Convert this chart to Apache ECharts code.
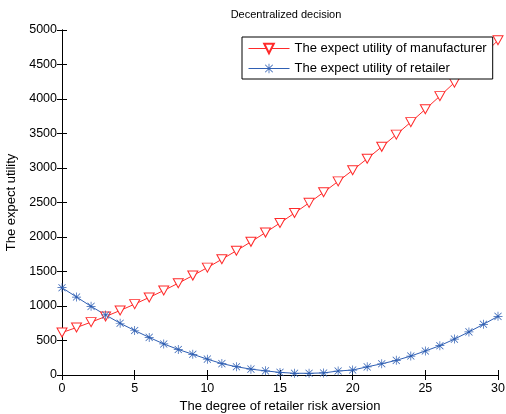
<!DOCTYPE html>
<html><head><meta charset="utf-8">
<script src="https://cdn.jsdelivr.net/npm/echarts@6/dist/echarts.min.js"></script>
<style>html,body{margin:0;padding:0;background:#fff}#c{width:506px;height:414px}</style>
</head><body><div id="c"></div>
<script>
const riskAversion = [0,1,2,3,4,5,6,7,8,9,10,11,12,13,14,15,16,17,18,19,20,21,22,23,24,25,26,27,28,29,30];
const manufacturerUtility = [615,688,766,848,935,1027,1124,1225,1330,1441,1556,1677,1801,1930,2064,2203,2347,2495,2648,2806,2968,3135,3307,3484,3665,3851,4042,4237,4437,4641,4851];
const retailerUtility = [1265,1130,995,870,750,645,545,450,370,300,230,165,120,85,60,38,25,25,30,58,72,118,163,212,275,348,425,520,625,735,850];
const xTicks = {min:0,max:30,step:5};
const yTicks = {min:0,max:5000,step:500};

const FONT = 'Liberation Sans, Arial, sans-serif';
const star = 'path://M9.2 0L10.8 0L10.8 20L9.2 20Z M0 9.2L20 9.2L20 10.8L0 10.8Z M1.6 2.7L2.7 1.6L18.4 17.3L17.3 18.4Z M17.3 1.6L18.4 2.7L2.7 18.4L1.6 17.3Z';
const chart = echarts.init(document.getElementById('c'));
const axBase = {
  axisLine:{show:true,lineStyle:{color:'#000',width:1}},
  axisTick:{show:true,inside:true,length:5,lineStyle:{color:'#000'}},
  splitLine:{show:false}
};
const RED='#ff2a2a', BLUE='#2f5fb3';
chart.setOption({
  animation:false,
  backgroundColor:'#fff',
  title:{text:'Decentralized decision',left:281,top:4,textAlign:'center',
    textStyle:{fontFamily:FONT,fontSize:11,fontWeight:'normal',color:'#000'}},
  legend:{
    left:242, top:37, orient:'vertical', backgroundColor:'#fff',
    borderColor:'#000', borderWidth:1, padding:[5,6,4,6], itemGap:7,
    itemWidth:41, itemHeight:12,
    lineStyle:{width:1},
    textStyle:{fontFamily:FONT,fontSize:13,color:'#000'},
    data:['The expect utility of manufacturer','The expect utility of retailer']
  },
  grid:{left:62,right:8,top:30,bottom:39,outerBoundsMode:'none',containLabel:false},
  xAxis:[
    Object.assign({type:'value',min:xTicks.min,max:xTicks.max,interval:xTicks.step,
      name:'The degree of retailer risk aversion',nameLocation:'middle',nameGap:23,
      nameTextStyle:{fontFamily:FONT,fontSize:13,color:'#000'},
      axisLabel:{fontFamily:FONT,fontSize:12.5,color:'#000',margin:7}},axBase),
    Object.assign({type:'value',position:'top',min:xTicks.min,max:xTicks.max,interval:xTicks.step,
      axisLabel:{show:false}},axBase)
  ],
  yAxis:[
    Object.assign({type:'value',min:yTicks.min,max:yTicks.max,interval:yTicks.step,
      name:'The expect utility',nameLocation:'middle',nameGap:42,
      nameTextStyle:{fontFamily:FONT,fontSize:13,color:'#000'},
      axisLabel:{fontFamily:FONT,fontSize:12.5,color:'#000',margin:5,formatter:v=>String(v)}},axBase),
    Object.assign({type:'value',position:'right',min:yTicks.min,max:yTicks.max,interval:yTicks.step,
      axisLabel:{show:false}},axBase)
  ],
  series:[
    {name:'The expect utility of manufacturer',type:'line',
      data:riskAversion.map((x,i)=>[x,manufacturerUtility[i]]),
      symbol:'triangle',symbolRotate:180,symbolSize:[10,9],showAllSymbol:true,
      lineStyle:{color:RED,width:1},itemStyle:{color:'#fff',borderColor:RED,borderWidth:1}},
    {name:'The expect utility of retailer',type:'line',
      data:riskAversion.map((x,i)=>[x,retailerUtility[i]]),
      symbol:star,symbolSize:9,showAllSymbol:true,
      lineStyle:{color:BLUE,width:1},itemStyle:{color:BLUE}}
  ]
});
</script></body></html>
